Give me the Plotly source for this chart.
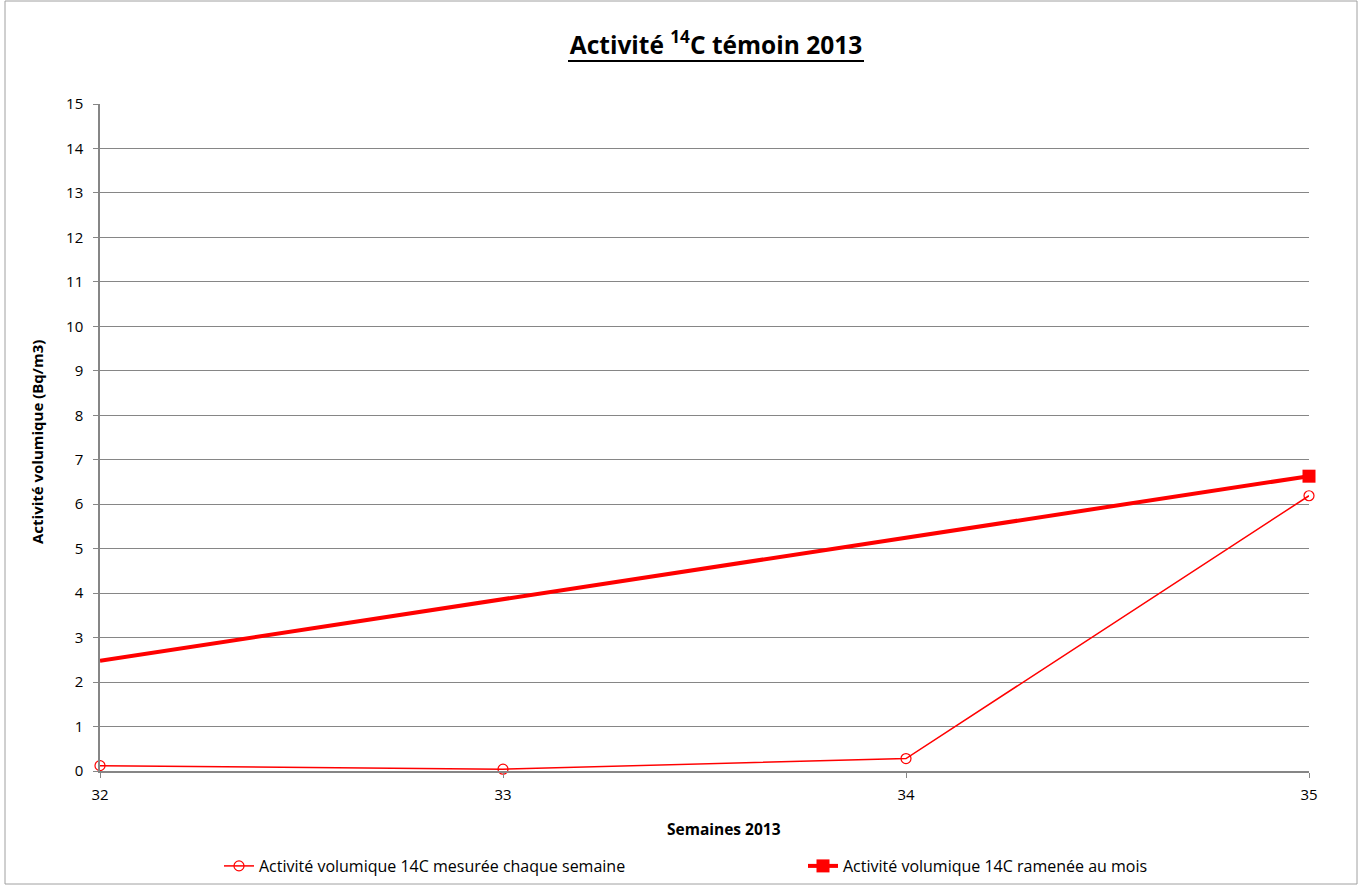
import plotly.graph_objects as go

weeks = [32, 33, 34, 35]
weekly = [0.12, 0.04, 0.28, 6.19]
month_x = [32, 35]
monthly = [2.48, 6.63]
y_ticks = list(range(0, 16))

W, H = 1361, 885
L, R, T, B = 100, 52, 104, 114
pw, ph = W - L - R, H - T - B

FONT = "Open Sans"
RED = "#FF0000"
GRID = "#868686"


def px_x(px):
    return (px - L) / pw


def px_y(py):
    return (T + ph - py) / ph


fig = go.Figure()
fig.add_trace(go.Scatter(
    x=month_x, y=monthly, mode="lines", showlegend=False,
    line=dict(color=RED, width=4), hoverinfo="skip", cliponaxis=False,
))
fig.add_trace(go.Scatter(
    x=weeks, y=weekly, mode="lines+markers",
    name="Activité volumique 14C mesurée chaque semaine",
    line=dict(color=RED, width=1.5),
    marker=dict(symbol="circle-open", size=10, color=RED, line=dict(width=1.2)),
    legend="legend", cliponaxis=False,
))
fig.add_trace(go.Scatter(
    x=month_x[-1:], y=monthly[-1:], mode="lines+markers",
    name="Activité volumique 14C ramenée au mois",
    line=dict(color=RED, width=4),
    marker=dict(symbol="square", size=13, color=RED),
    legend="legend2", cliponaxis=False,
))

fig.update_layout(
    width=W, height=H,
    margin=dict(l=L, r=R, t=T, b=B, autoexpand=False),
    paper_bgcolor="white", plot_bgcolor="white",
    font=dict(family=FONT, size=15, color="black"),
    title=dict(
        text="<b>Activité <sup>14</sup>C témoin 2013</b>",
        x=716 / W, xanchor="center", xref="container",
        y=1 - 45 / H, yanchor="middle", yref="container",
        font=dict(family=FONT, size=24.5, color="black"),
    ),
    xaxis=dict(
        range=[32, 35], tickvals=weeks, ticktext=[str(w) for w in weeks],
        showgrid=False, showline=True, linecolor=GRID, linewidth=1.5,
        ticks="outside", ticklen=5, tickcolor=GRID, zeroline=False,
        ticklabelstandoff=4, tickfont=dict(size=15),
    ),
    yaxis=dict(
        range=[0, 15], tickvals=y_ticks, showgrid=True, gridcolor=GRID, gridwidth=1,
        showline=True, linecolor=GRID, linewidth=1.5,
        ticks="outside", ticklen=5, tickcolor=GRID, zeroline=False,
        ticklabelstandoff=7, tickfont=dict(size=15),
    ),
    legend=dict(
        orientation="h", x=px_x(219), xanchor="left",
        y=px_y(866), yanchor="middle",
        font=dict(size=16), bgcolor="rgba(0,0,0,0)",
    ),
    legend2=dict(
        orientation="h", x=px_x(803), xanchor="left",
        y=px_y(866), yanchor="middle",
        font=dict(size=16), bgcolor="rgba(0,0,0,0)",
    ),
    showlegend=True,
)

fig.add_annotation(
    text="<b>Semaines 2013</b>", xref="paper", yref="paper",
    x=px_x(724), y=px_y(829), showarrow=False,
    xanchor="center", yanchor="middle", font=dict(size=15.5),
)
fig.add_annotation(
    text="<b>Activité volumique (Bq/m3)</b>", xref="paper", yref="paper",
    x=px_x(37), y=px_y(442), showarrow=False, textangle=-90,
    xanchor="center", yanchor="middle", font=dict(size=15),
)

# title underline
fig.add_shape(
    type="line", xref="paper", yref="paper",
    x0=px_x(568), x1=px_x(864), y0=px_y(61), y1=px_y(61),
    line=dict(color="black", width=2),
)

fig.add_shape(
    type="rect", xref="paper", yref="paper",
    x0=px_x(5), x1=px_x(1357),
    y0=px_y(884), y1=px_y(1),
    line=dict(color="#A0A0A0", width=1), layer="below",
)

fig.write_html(
    "out.html",
    config={"displayModeBar": False},
    post_script="document.body.style.margin='0px';",
)
